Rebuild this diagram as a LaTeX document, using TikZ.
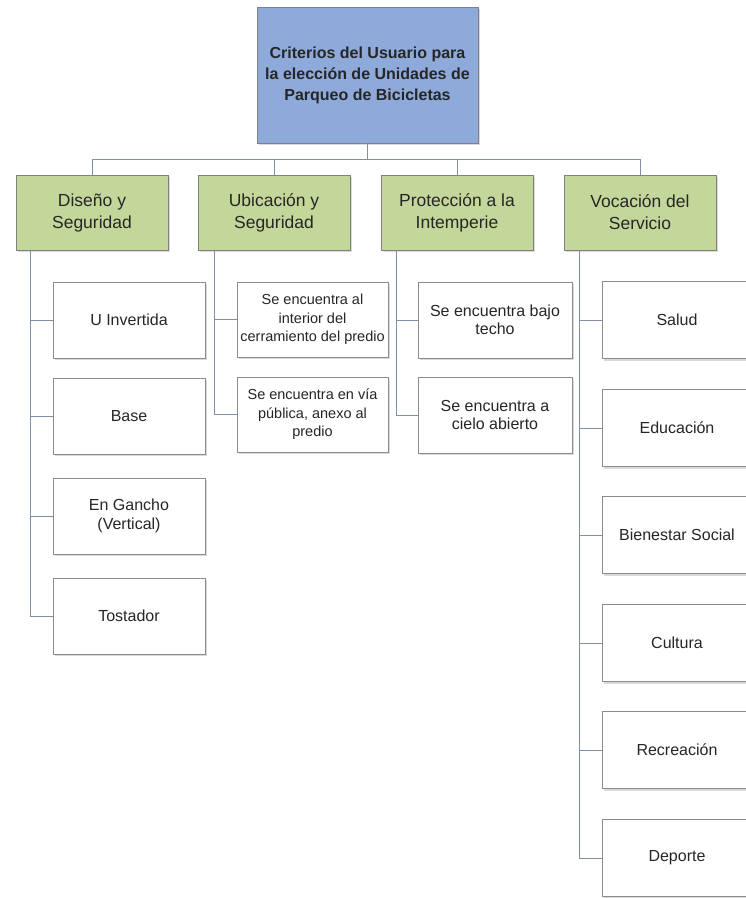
\documentclass[tikz,border=0pt]{standalone}
\usepackage{fontspec}
\setmainfont{Liberation Sans}
\usetikzlibrary{shadows}
\definecolor{rootblue}{HTML}{8EAADB}
\definecolor{catgreen}{HTML}{C4D79B}
\definecolor{linegray}{HTML}{7F8FA6}
\definecolor{edgegray}{HTML}{8C8C8C}
\definecolor{txtgray}{HTML}{262626}
\begin{document}
\begin{tikzpicture}[x=1pt,y=-1pt,
  conn/.style={draw=linegray,line width=1pt},
  boxbase/.style={draw=edgegray,line width=.8pt,align=center,text=txtgray,inner sep=2pt,drop shadow={shadow xshift=1.5pt,shadow yshift=-2pt,opacity=.3}},
  rootbox/.style={boxbase,fill=rootblue,draw=gray,minimum width=221pt,minimum height=136pt,font=\fontsize{16}{21}\selectfont\bfseries},
  catbox/.style={boxbase,fill=catgreen,draw=gray,minimum width=152pt,minimum height=75pt,font=\fontsize{17.5}{22}\selectfont},
  itembox/.style={boxbase,fill=white,minimum width=152pt,minimum height=76pt,font=\fontsize{16}{19}\selectfont}]
\useasboundingbox (0,0) rectangle (746,898);
\node[rootbox] (crit) at (367.5,75) {Criterios del Usuario para\\la elección de Unidades de\\Parqueo de Bicicletas};
\node[catbox] (dis) at (92,212.5) {Diseño y\\Seguridad};
\node[catbox] (ubi) at (274,212.5) {Ubicación y\\Seguridad};
\node[catbox] (pro) at (457,212.5) {Protección a la\\Intemperie};
\node[catbox] (voc) at (640,212.5) {Vocación del\\Servicio};
\foreach \n in {dis,ubi,pro,voc}\draw[conn] (crit.south) -- ++(0,16) -| (\n.north);
\foreach \i/\y/\t in {1/320/U Invertida,2/416/Base,3/516/{En Gancho\\(Vertical)},4/616/Tostador}{
  \node[itembox] (dis\i) at (129,\y) {\t};
  \draw[conn] (dis.south west) ++(15,0) |- (dis\i.west);
}
\foreach \i/\y/\t in {1/319.5/{Se encuentra al\\interior del\\cerramiento del predio},2/414.5/{Se encuentra en vía\\pública, anexo al\\predio}}{
  \node[itembox,minimum width=151pt,minimum height=75pt,font=\fontsize{14.5}{18.5}\selectfont] (ubi\i) at (312.5,\y) {\t};
  \draw[conn] (ubi.south west) ++(17,0) |- (ubi\i.west);
}
\foreach \i/\y/\t in {1/320/{Se encuentra bajo\\techo},2/415/{Se encuentra a\\cielo abierto}}{
  \node[itembox,minimum width=154pt,font=\fontsize{16}{18.5}\selectfont] (pro\i) at (495,\y) {\t};
  \draw[conn] (pro.south west) ++(16,0) |- (pro\i.west);
}
\foreach \i/\y/\t in {1/320/Salud,2/428/Educación,3/535/Bienestar Social,4/643/Cultura,5/750/Recreación,6/858/Deporte}{
  \node[itembox,minimum width=150pt,minimum height=77pt] (voc\i) at (677,\y) {\t};
  \draw[conn] (voc.south west) ++(16,0) |- (voc\i.west);
}
\end{tikzpicture}
\end{document}
